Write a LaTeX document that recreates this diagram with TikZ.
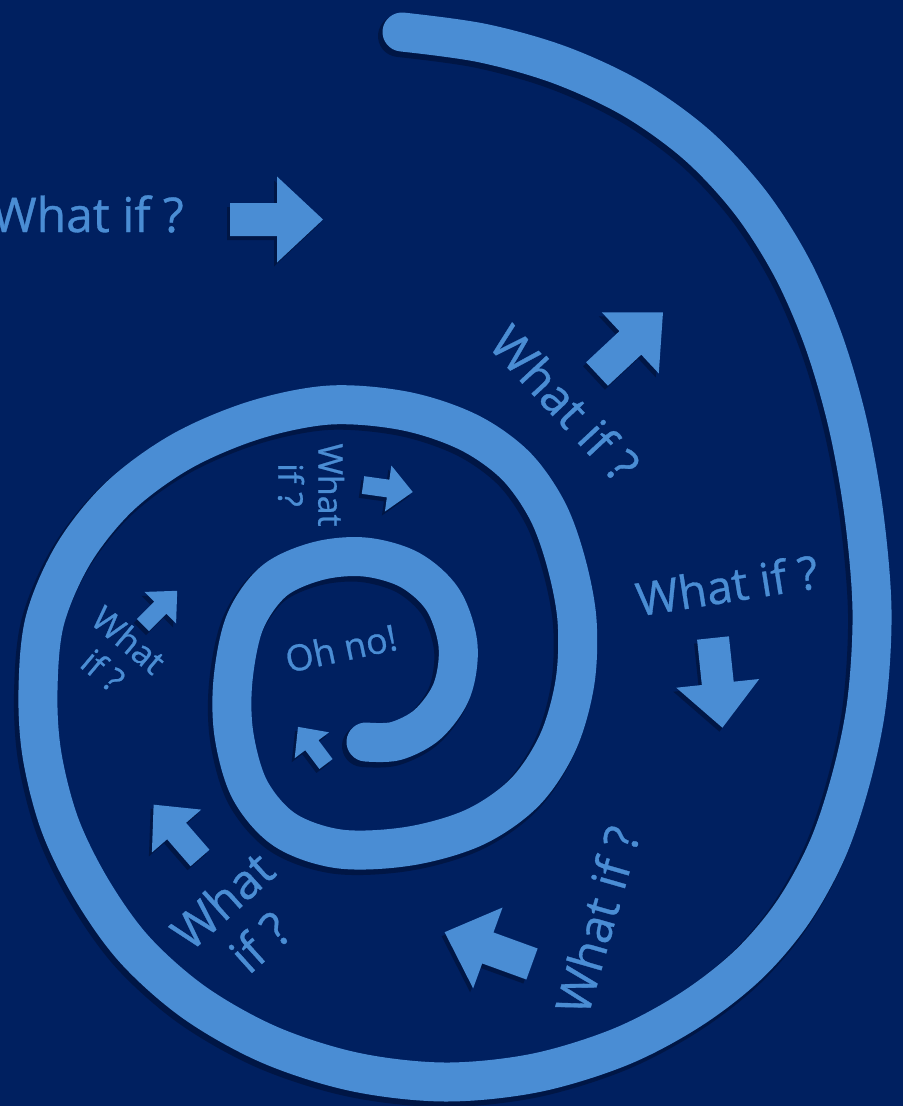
\documentclass[tikz,border=0pt]{standalone}
\usepackage{fontspec}
\setmainfont{Open Sans}[FakeBold=0.7]
\usetikzlibrary{calc}
\definecolor{navy}{RGB}{0,32,96}
\definecolor{spiralblue}{RGB}{74,141,212}
\definecolor{shade}{RGB}{0,14,48}
\tikzset{
  spiralpic/.pic={
    \draw[line cap=round, line join=round]
      plot[smooth, tension=0.55] coordinates {
        (402,32) (482,43) (560,65) (633,99) (697,145) (750,202) (792,268)
        (824,342) (848,425) (864,515) (872,610) (867,700) (852,775)
        (828,848) (793,912) (748,965) (690,1010) (620,1047) (535,1073)
        (445,1082) (355,1072) (270,1045) (195,1003) (135,950) (92,890)
        (60,825) (42,755) (38,690) (45,620) (74,553) (120,496) (182,451)
        (255,420) (330,405) (405,411) (468,432) (515,465) (547,510)
        (566,562) (577,620) (575,682) (558,742) (525,792) (475,827)
        (410,846) (340,849) (285,830) (250,790) (234,735) (233,680)
        (245,622) (274,581) (318,561) (365,557) (410,570) (443,600)
        (458,645) (452,690) (428,724) (396,741) (366,742)};
  },
  barrow/.pic={
    \fill (0,-16.5) -- (47,-16.5) -- (47,-43) -- (93,0) -- (47,43)
          -- (47,16.5) -- (0,16.5) -- cycle;
  },
  shadowstyle/.style={color=shade, opacity=0.55},
  lbl/.style={text=spiralblue, inner sep=0pt},
  bigtxt/.style={lbl, font=\fontsize{27.3pt}{32pt}\selectfont},
  midtxt/.style={lbl, font=\fontsize{26.2pt}{31pt}\selectfont},
  smalltxt/.style={lbl, align=center, font=\fontsize{19.3pt}{22.8pt}\selectfont},
  ohtxt/.style={lbl, font=\fontsize{20.5pt}{24pt}\selectfont},
  lowtxt/.style={lbl, align=center, font=\fontsize{27.3pt}{31.9pt}\selectfont}
}
\newcommand\whatarrow[4]{%
  \pic[shadowstyle, rotate=#3, scale=#4] at ($#2+(-3,4)$) {barrow};
  \pic[color=spiralblue, rotate=#3, scale=#4] (#1) at #2 {barrow};}
\begin{document}
\begin{tikzpicture}[x=0.02cm, y=-0.02cm]
  \fill[navy] (0,0) rectangle (903,1106);
  \useasboundingbox (0,0) rectangle (903,1106);

  % spiral with soft shadow
  \pic[shadowstyle, line width=0.84cm] at (-3,4) {spiralpic};
  \pic[color=spiralblue, line width=0.78cm] (spiral) at (0,0) {spiralpic};

  % arrows
  \whatarrow{a1}{(230,219.5)}{0}{1.0}
  \whatarrow{a2}{(597,374)}{43}{0.97}
  \whatarrow{a3}{(363,485)}{-8}{0.54}
  \whatarrow{a4}{(713,638)}{-84}{0.97}
  \whatarrow{a5}{(143,625)}{45}{0.52}
  \whatarrow{a6}{(326,764)}{127}{0.5}
  \whatarrow{a7}{(200,858)}{131}{0.76}
  \whatarrow{a8}{(532,964)}{160}{1.0}

  % labels
  \node[bigtxt, anchor=base east] (q1) at (184,232) {What if ?};
  \node[bigtxt, rotate=-47] (q2) at (565,403) {What if ?};
  \node[smalltxt, rotate=-90] (q3) at (311,485) {What\\if ?};
  \node[midtxt, rotate=9] (q4) at (727,585) {What if ?};
  \node[smalltxt, rotate=-40] (q5) at (116,655) {What\\if ?};
  \node[ohtxt, rotate=12] (oh) at (341,648) {Oh no!};
  \node[lowtxt, rotate=42] (q7) at (241,921) {What\\if ?};
  \node[bigtxt, rotate=74] (q8) at (597,920) {What if ?};
\end{tikzpicture}
\end{document}
